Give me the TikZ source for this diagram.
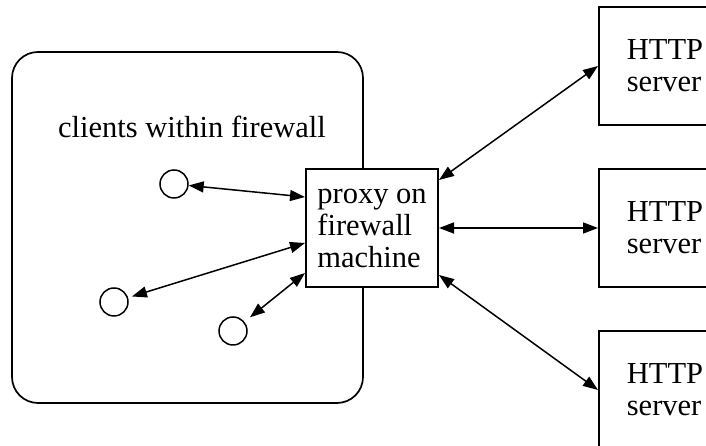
\documentclass[tikz,border=0pt]{standalone}
\usepackage{fontspec}
\setmainfont{Liberation Serif}
\usetikzlibrary{positioning}
\usetikzlibrary{arrows.meta}
\tikzset{
    zone/.style = {rectangle, rounded corners=26pt, line width=1.7pt, draw=black, minimum width=351pt, minimum height=351pt},
    host/.style = {rectangle, line width=2pt, draw=black, fill=white, align=left, inner sep=0pt, minimum width=132pt, minimum height=118pt},
    client/.style = {circle, line width=1.5pt, draw=black, inner sep=0pt, minimum size=28pt},
    edgeb/.style = {{Triangle[length=15pt,width=11pt]}-{Triangle[length=15pt,width=11pt]}, line width=1.5pt}
}
\begin{document}
\begin{tikzpicture}[x=1pt, y=1pt, font=\fontsize{30.5}{32}\selectfont]
  \useasboundingbox (0,0) rectangle (706,446);
  \clip (0,0) rectangle (706,446);

  % firewall side
  \node[zone] (lan) at (187.5,218.5) {};
  \node (lantext) at (192,319) {clients within firewall};
  \node[client] (c1) at (174,262) {};
  \node[client] (c2) at (114,144) {};
  \node[client] (c3) at (233,115) {};

  \node[host] (proxy) at (372,218) {proxy on\\firewall\\machine};

  % outside
  \node[host] (srv1) at (665,380) {HTTP\\server};
  \node[host] (srv2) at (665,218) {HTTP\\server};
  \node[host] (srv3) at (665,56) {HTTP\\server};

  \draw[edgeb] (c1) -- ([yshift=31pt]proxy.west);
  \draw[edgeb, shorten <=4pt] (c2) -- ([yshift=-15pt]proxy.west);
  \draw[edgeb, shorten <=7pt] (c3) -- ([yshift=-45pt]proxy.west);

  \draw[edgeb] ([yshift=48pt]proxy.east) -- (srv1.west);
  \draw[edgeb] (proxy.east) -- (srv2.west);
  \draw[edgeb] ([yshift=-47pt]proxy.east) -- (srv3.west);
\end{tikzpicture}
\end{document}
